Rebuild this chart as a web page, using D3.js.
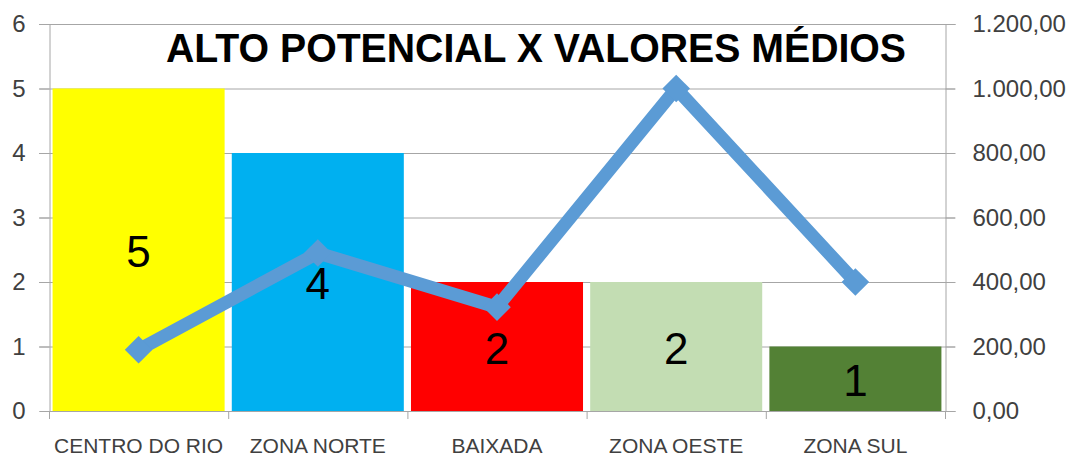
<!DOCTYPE html>
<html><head><meta charset="utf-8">
<script src="https://cdn.jsdelivr.net/npm/d3@7"></script>
<style>body{margin:0;background:#fff}svg{display:block}</style>
</head><body>
<svg id="c" width="1070" height="457"></svg>
<script>
const categories = ["CENTRO DO RIO","ZONA NORTE","BAIXADA","ZONA OESTE","ZONA SUL"];
const barValues = [5,4,2,2,1];
const lineValues = [190,490,322,1000,400];
const barColors = ["#FFFF00","#00B0F0","#FF0000","#C3DDB3","#538135"];
const leftTicks = [0,1,2,3,4,5,6];
const rightTicks = [0,200,400,600,800,1000,1200];
const title = "ALTO POTENCIAL X VALORES MÉDIOS";

const svg = d3.select("#c");
const L = 49, R = 945, T = 24, B = 411;
const x = d3.scaleBand().domain(categories).range([L, R]).paddingInner(0.04).paddingOuter(0.02);
const yL = d3.scaleLinear().domain([0,6]).range([B,T]);
const yR = d3.scaleLinear().domain([0,1200]).range([B,T]);
const font = "'Liberation Sans', Arial, sans-serif";
const fmt = v => d3.format(",.2f")(v).replace(/,/g,"#").replace(".",",").replace(/#/g,".");

// gridlines
svg.append("g").selectAll("line").data(leftTicks.filter(d=>d>0)).join("line")
  .attr("x1", L-10).attr("x2", R+10).attr("y1", d=>yL(d)+0.5).attr("y2", d=>yL(d)+0.5)
  .attr("stroke", "#a6a6a6").attr("stroke-width", 1);

// bars
svg.append("g").selectAll("rect").data(categories).join("rect")
  .attr("x", d=>x(d)).attr("width", x.bandwidth())
  .attr("y", (d,i)=>yL(barValues[i])).attr("height", (d,i)=>B - yL(barValues[i]))
  .attr("fill", (d,i)=>barColors[i]);

// left axis
const ax = svg.append("g").attr("transform", `translate(${L+0.5},0)`)
  .call(d3.axisLeft(yL).tickValues(leftTicks).tickSize(10).tickPadding(14).tickFormat(d3.format("d")));
ax.select(".domain").attr("stroke", "#a6a6a6");
ax.selectAll(".tick line").attr("stroke", "#a6a6a6");
ax.selectAll("text").style("font-family", font).style("font-size", "24px").attr("fill", "#404040");

// right axis
const ar = svg.append("g").attr("transform", `translate(${R+0.5},0)`)
  .call(d3.axisRight(yR).tickValues(rightTicks).tickSize(10).tickPadding(17).tickFormat(fmt));
ar.select(".domain").attr("stroke", "#a6a6a6");
ar.selectAll(".tick line").attr("stroke", "#a6a6a6");
ar.selectAll("text").style("font-family", font).style("font-size", "24px").attr("fill", "#404040");

// bottom axis
const bounds = d3.range(categories.length+1).map(i => L + i*(R-L)/categories.length);
svg.append("line").attr("x1", L).attr("x2", R).attr("y1", B+0.5).attr("y2", B+0.5).attr("stroke", "#a6a6a6");
svg.append("g").selectAll("line").data(bounds).join("line")
  .attr("x1", d=>d+0.5).attr("x2", d=>d+0.5).attr("y1", B).attr("y2", B+8).attr("stroke", "#a6a6a6");
svg.append("g").selectAll("text").data(categories).join("text")
  .attr("x", d=>x(d)+x.bandwidth()/2).attr("y", 453)
  .attr("text-anchor", "middle").style("font-family", font).style("font-size", "21px").attr("fill", "#404040")
  .text(d=>d);

// bar labels
svg.append("g").selectAll("text").data(categories).join("text")
  .attr("x", d=>x(d)+x.bandwidth()/2).attr("y", (d,i)=>(yL(barValues[i])+B)/2 + 17)
  .attr("text-anchor", "middle").style("font-family", font).style("font-size", "44px").attr("fill", "#000")
  .text((d,i)=>barValues[i]);

// line
const cx = d => x(d)+x.bandwidth()/2;
svg.append("path").datum(categories)
  .attr("d", d3.line().x(d=>cx(d)).y((d,i)=>yR(lineValues[i])))
  .attr("fill", "none").attr("stroke", "#5B9BD5").attr("stroke-width", 13).attr("stroke-linejoin", "miter");
svg.append("g").selectAll("path").data(categories).join("path")
  .attr("d", d3.symbol(d3.symbolSquare, 380))
  .attr("transform", (d,i)=>`translate(${cx(d)},${yR(lineValues[i])}) rotate(45)`)
  .attr("fill", "#5B9BD5");

// title
svg.append("text").attr("x", 536).attr("y", 62).attr("text-anchor", "middle")
  .style("font-family", font).attr("font-weight", "bold").style("font-size", "40px")
  .attr("textLength", 740).attr("lengthAdjust", "spacingAndGlyphs")
  .attr("fill", "#000").text(title);
</script>
</body></html>
